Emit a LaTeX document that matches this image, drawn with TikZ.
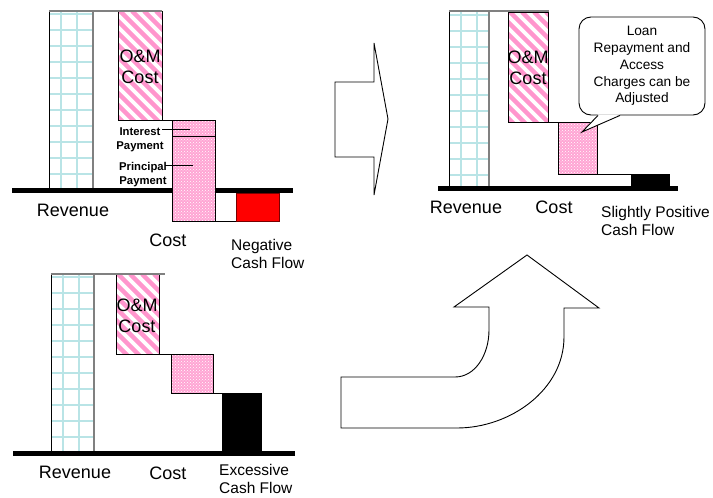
\documentclass[tikz,border=0pt]{standalone}
\usepackage{fontspec}
\setmainfont{Liberation Sans}
\usepackage{tikz}
\usetikzlibrary{patterns}

\definecolor{stripepink}{RGB}{255,150,205}
\definecolor{dotpink}{RGB}{255,165,212}
\definecolor{gridcyan}{RGB}{185,228,230}
\definecolor{flowred}{RGB}{255,0,0}
\definecolor{flowdark}{RGB}{120,0,0}

% revenue bar with light grid
\newcommand{\revbar}[4]{%
  \fill[white] (#1,#2) rectangle (#3,#4);
  \begin{scope}
    \clip (#1,#2) rectangle (#3,#4);
    \foreach \gx in {12,28} \draw[gridline] ({#1+\gx},#2) -- ({#1+\gx},#4);
    \foreach \gy in {3,19,...,195} \draw[gridline] (#1,{#2+\gy}) -- (#3,{#2+\gy});
  \end{scope}
  \draw[barline] (#1,#4) -- (#1,#2);
  \draw[edgeline] (#3,#2) -- (#3,#4);
}
% O&M bar with pink stripes
\newcommand{\ombar}[4]{%
  \fill[white] (#1,#2) rectangle (#3,#4);
  \begin{scope}
    \clip (#1,#2) rectangle (#3,#4);
    \foreach \s in {-130,-118,...,50} \draw[stripe] ({#1+\s},#2) -- ++(150,150);
  \end{scope}
  \draw[barline] (#1,#2) rectangle (#3,#4);
}
% loan bar, pink with white dots
\newcommand{\loanbar}[4]{%
  \fill[dotpink] (#1,#2) rectangle (#3,#4);
  \fill[pattern=crosshatch dots, pattern color=white] (#1,#2) rectangle (#3,#4);
  \draw[barline] (#1,#2) rectangle (#3,#4);
}

\begin{document}
\begin{tikzpicture}[
    x=1pt, y=-1pt,
    barline/.style={draw=black, line width=0.9pt},
    edgeline/.style={draw=gray, line width=1.8pt},
    gridline/.style={draw=gridcyan, line width=1.8pt},
    stripe/.style={draw=stripepink, line width=4.5pt},
    ground/.style={draw=black, line width=5pt},
    lbl/.style={font=\fontsize{18}{21}\selectfont, align=center, inner sep=0pt},
    flowlbl/.style={font=\fontsize{15.5}{18}\selectfont, align=left, anchor=west, inner sep=0pt},
    paylbl/.style={font=\fontsize{11.3}{14}\selectfont\bfseries, align=center, inner sep=0pt},
    callbox/.style={draw, fill=white, rounded corners=12pt, line width=0.9pt, align=center,
        font=\fontsize{13.7}{16.8}\selectfont, minimum width=126pt, minimum height=98pt},
    bigarrow/.style={draw=black, line width=0.9pt, fill=white}
  ]
  \useasboundingbox (0,0) rectangle (713,498);

  % top left: negative cash flow
  \revbar{49}{11}{93}{188}
  \ombar{118}{11}{162}{120}
  \draw[edgeline] (49,11) -- (162,11);
  \draw[barline] (162,120) -- (172,120);
  \draw[ground] (12,190.5) -- (293,190.5);
  \loanbar{172}{120}{215}{221}
  \draw[barline] (172,136) -- (215,136);
  \draw[barline] (185,221) -- (257,221);
  \filldraw[fill=flowred, draw=flowdark, line width=0.9pt] (236,193) rectangle (279,221);
  \node[lbl] (omA) at (140,67) {O\&M\\Cost};
  \node[paylbl] (intA) at (140,140) {Interest\\Payment};
  \node[paylbl] (prinA) at (143,175) {Principal\\Payment};
  \coordinate (intS) at (162,129);
  \coordinate (intE) at (190,129);
  \coordinate (prinS) at (165,165);
  \coordinate (prinE) at (193,165);
  \draw[barline] (intS) -- (intE);
  \draw[barline] (prinS) -- (prinE);
  \node[lbl] (revA) at (73,210) {Revenue};
  \node[lbl] (costA) at (168,240) {Cost};
  \node[flowlbl] (negA) at (231,254) {Negative\\Cash Flow};

  % arrow to the right
  \draw[bigarrow] (335,82) -- (374,82) -- (374,43) -- (388,119) -- (374,195)
    -- (374,157) -- (335,157) -- cycle;

  % top right: slightly positive cash flow
  \revbar{449}{12}{489}{187}
  \ombar{508}{12}{548}{122}
  \draw[edgeline] (449,11) -- (549,11);
  \draw[barline] (548,122) -- (558,122);
  \loanbar{558}{122}{597}{174}
  \draw[barline] (597,174) -- (670,174);
  \fill[black] (631,174) rectangle (670,187);
  \draw[ground] (438,188.5) -- (678,188.5);
  \node[lbl] (omB) at (528,68) {O\&M\\Cost};
  \node[callbox] (loanbox) at (642,66) {Loan\\Repayment and\\Access\\Charges can be\\Adjusted};
  \coordinate (loantip) at (582,132);
  \fill[white] ([xshift=-44pt, yshift=1pt]loanbox.south) -- (loantip)
    -- ([xshift=-22pt, yshift=1pt]loanbox.south) -- cycle;
  \draw[barline] ([xshift=-44pt]loanbox.south) -- (loantip) -- ([xshift=-22pt]loanbox.south);
  \node[lbl] (revB) at (466,207) {Revenue};
  \node[lbl] (costB) at (554,207) {Cost};
  \node[flowlbl] (posB) at (601,221) {Slightly Positive\\Cash Flow};

  % bottom left: excessive cash flow
  \revbar{51}{274}{94}{452}
  \ombar{116}{274}{159}{354}
  \draw[edgeline] (51,274) -- (165,274);
  \draw[barline] (159,354) -- (171,354);
  \loanbar{171}{354}{213}{393}
  \draw[barline] (213,393) -- (222,393);
  \fill[black] (222,393) rectangle (262,452);
  \draw[ground] (13,453.5) -- (295,453.5);
  \node[lbl] (omC) at (137,316) {O\&M\\Cost};
  \node[lbl] (revC) at (75,472) {Revenue};
  \node[lbl] (costC) at (168,473) {Cost};
  \node[flowlbl] (excC) at (219,479) {Excessive\\Cash Flow};

  % curved arrow up
  \draw[bigarrow] (527,255) -- (599,308) -- (564,308) -- (564,337)
    .. controls (564,390) and (510,428) .. (457,428) -- (341,428) -- (341,377)
    -- (455,377) .. controls (475,377) and (489,355) .. (489,330)
    -- (489,307) -- (454,307) -- cycle;
\end{tikzpicture}
\end{document}
